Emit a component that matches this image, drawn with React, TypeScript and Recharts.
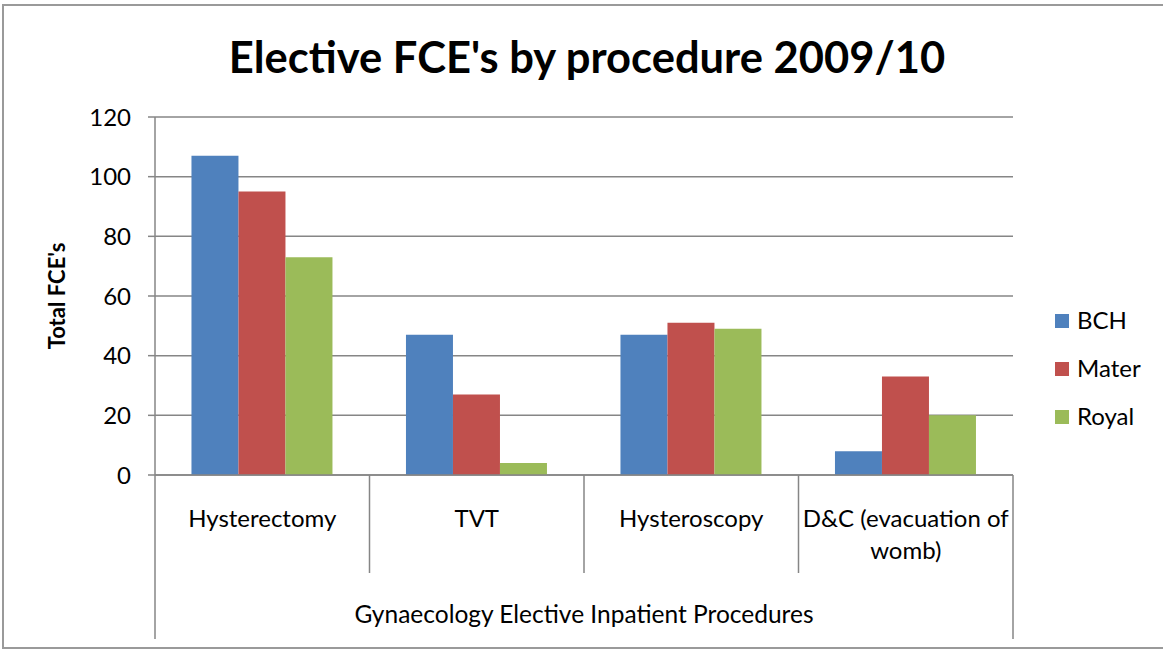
import React from 'react';
import { BarChart, Bar, XAxis, YAxis, CartesianGrid } from 'recharts';

const categories = ['Hysterectomy', 'TVT', 'Hysteroscopy', 'D&C (evacuation of womb)'];
const bchValues = [107, 47, 47, 8];
const materValues = [95, 27, 51, 33];
const royalValues = [73, 4, 49, 20];
const seriesNames = ['BCH', 'Mater', 'Royal'];
const seriesColors = ['#4F81BD', '#C0504D', '#9BBB59'];
const yTicks = [0, 20, 40, 60, 80, 100, 120];
const groupLabel = 'Gynaecology Elective Inpatient Procedures';
const chartTitle = "Elective FCE's by procedure 2009/10";
const yTitle = "Total FCE's";

const data = categories.map((name, i) => ({
  name,
  BCH: bchValues[i],
  Mater: materValues[i],
  Royal: royalValues[i],
}));

const W = 1163;
const H = 652;
const FONT = 'Lato, "Open Sans", sans-serif';
const AXIS = '#868686';
const PLOT_LEFT = 155;
const PLOT_RIGHT = 1013;
const AXIS_Y = 475;
const BAND = (PLOT_RIGHT - PLOT_LEFT) / categories.length;
const TICK_SIZE = 24;

// greedy word wrap measured with a canvas
let ctx: CanvasRenderingContext2D | null = null;
function wrap(text: string, maxWidth: number): string[] {
  if (!ctx) ctx = document.createElement('canvas').getContext('2d');
  if (!ctx) return [text];
  ctx.font = `${TICK_SIZE}px ${FONT}`;
  const words = text.split(' ');
  const lines: string[] = [];
  let cur = '';
  words.forEach((w) => {
    const next = cur ? cur + ' ' + w : w;
    if (cur && ctx!.measureText(next).width > maxWidth) {
      lines.push(cur);
      cur = w;
    } else {
      cur = next;
    }
  });
  if (cur) lines.push(cur);
  return lines;
}

const CategoryTick = (props: any) => {
  const { x, payload, index } = props;
  const left = x - BAND / 2;
  const right = x + BAND / 2;
  const last = index === categories.length - 1;
  const lines = wrap(String(payload.value), BAND - 4);
  return (
    <g>
      <line x1={left} x2={left} y1={AXIS_Y} y2={index === 0 ? 639 : 573} stroke={AXIS} strokeWidth={1.5} />
      {last && <line x1={right} x2={right} y1={AXIS_Y} y2={639} stroke={AXIS} strokeWidth={1.5} />}
      <text x={x} y={527} textAnchor="middle" fontFamily={FONT} fontSize={TICK_SIZE} fill="#000">
        {lines.map((l, i) => (
          <tspan key={i} x={x} dy={i === 0 ? 0 : 32}>
            {l}
          </tspan>
        ))}
      </text>
    </g>
  );
};

export default function App() {
  return (
    <div style={{ position: 'absolute', left: 0, top: 0, width: W, height: H, background: '#fff', overflow: 'hidden' }}>
      <div
        style={{
          position: 'absolute',
          left: 2,
          top: 4,
          width: W + 10,
          height: 645,
          border: '2px solid #9a9a9a',
          boxSizing: 'border-box',
        }}
      />
      <BarChart
        width={W}
        height={H}
        data={data}
        margin={{ top: 117, right: W - PLOT_RIGHT, bottom: 13, left: 35 }}
        barCategoryGap="17%"
        barGap={0}
        style={{ position: 'absolute', left: 0, top: 0 }}
      >
        <CartesianGrid vertical={false} stroke={AXIS} strokeWidth={1.5} />
        <XAxis
          dataKey="name"
          height={164}
          axisLine={{ stroke: AXIS, strokeWidth: 1.5 }}
          tickLine={false}
          interval={0}
          tick={<CategoryTick />}
        />
        <YAxis
          width={120}
          domain={[0, 120]}
          ticks={yTicks}
          interval={0}
          tickSize={7}
          tickMargin={17}
          axisLine={{ stroke: AXIS, strokeWidth: 1.5 }}
          tickLine={{ stroke: AXIS, strokeWidth: 1.5 }}
          tick={{ fill: '#000', fontSize: TICK_SIZE, fontFamily: FONT }}
          label={{
            value: yTitle,
            angle: -90,
            position: 'insideLeft',
            offset: 22,
            style: { fontFamily: FONT, fontSize: 22, fontWeight: 700, fill: '#000', textAnchor: 'middle' },
          }}
        />
        {seriesNames.map((s, i) => (
          <Bar key={s} dataKey={s} fill={seriesColors[i]} isAnimationActive={false} />
        ))}
      </BarChart>
      <svg width={W} height={H} style={{ position: 'absolute', left: 0, top: 0, pointerEvents: 'none' }}>
        <text x={587} y={73} textAnchor="middle" fontFamily={FONT} fontSize={43.5} fontWeight={700} fill="#000">
          {chartTitle}
        </text>
        <text x={(PLOT_LEFT + PLOT_RIGHT) / 2} y={623} textAnchor="middle" fontFamily={FONT} fontSize={24.5} fill="#000">
          {groupLabel}
        </text>
        {seriesNames.map((s, i) => (
          <g key={s}>
            <rect x={1055} y={314 + i * 48} width={14} height={14} fill={seriesColors[i]} />
            <text x={1077} y={329 + i * 48} fontFamily={FONT} fontSize={TICK_SIZE} fill="#000">
              {s}
            </text>
          </g>
        ))}
      </svg>
    </div>
  );
}
